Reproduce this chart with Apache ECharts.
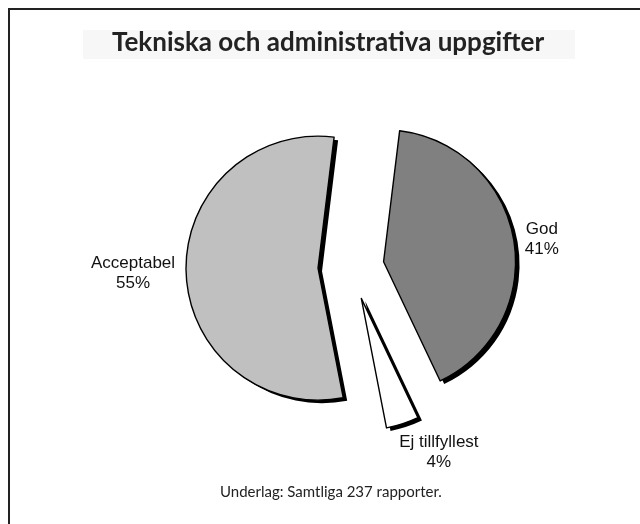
<!DOCTYPE html>
<html>
<head>
<meta charset="utf-8">
<script src="https://cdn.jsdelivr.net/npm/echarts@6/dist/echarts.min.js"></script>
<style>
  html, body { margin: 0; padding: 0; background: #fff; }
  #chart { width: 640px; height: 524px; }
</style>
</head>
<body>
<div id="chart"></div>
<script>
// data, clockwise from the top
var categories = ['God', 'Ej tillfyllest', 'Acceptabel'];
var shares = [41, 4, 55];
var fills = ['#808080', '#ffffff', '#c0c0c0'];
// label line lengths tuned so labels land where the original put them
var labelLen = [6, 30, 6];
var labelLen2 = [0, 22, 0];

var chart = echarts.init(document.getElementById('chart'));

var pieCenter = [351, 267];
var pieRadius = 132;
var explode = 33;

// a black copy of the pie a few pixels down-right acts as the hard drop shadow
var shadowData = categories.map(function (name, i) {
  return {
    name: name,
    value: shares[i],
    selected: true,
    itemStyle: { color: '#000', borderWidth: 0 },
    select: { itemStyle: { color: '#000', borderWidth: 0 } }
  };
});

var sliceData = categories.map(function (name, i) {
  var st = { color: fills[i], borderColor: '#000', borderWidth: 1.4 };
  return {
    name: name,
    value: shares[i],
    selected: true,
    itemStyle: st,
    select: { itemStyle: st },
    labelLine: { show: false, length: labelLen[i], length2: labelLen2[i] }
  };
});

chart.setOption({
  animation: false,
  graphic: [
    {
      type: 'rect',
      z: 0,
      shape: { x: 9, y: 9, width: 700, height: 600 },
      style: { fill: 'none', stroke: '#222', lineWidth: 2 }
    },
    {
      type: 'rect',
      z: 0,
      shape: { x: 83, y: 30, width: 492, height: 29 },
      style: { fill: '#f7f7f7' }
    }
  ],
  title: [
    {
      text: 'Tekniska och administrativa uppgifter',
      left: 112,
      top: 28,
      padding: 0,
      textStyle: {
        fontFamily: 'Lato',
        fontWeight: 'bold',
        fontSize: 26,
        lineHeight: 30,
        color: '#222'
      }
    },
    {
      text: 'Underlag: Samtliga 237 rapporter.',
      left: 220,
      top: 485,
      padding: 0,
      textStyle: {
        fontFamily: 'Lato',
        fontWeight: 'normal',
        fontSize: 15,
        color: '#222'
      }
    }
  ],
  series: [
    {
      type: 'pie',
      silent: true,
      center: [pieCenter[0] + 4, pieCenter[1] + 3],
      radius: pieRadius,
      startAngle: 83,
      selectedMode: 'multiple',
      selectedOffset: explode,
      emphasis: { disabled: true },
      label: { show: false },
      labelLine: { show: false },
      data: shadowData
    },
    {
      type: 'pie',
      center: pieCenter,
      radius: pieRadius,
      startAngle: 83,
      clockwise: true,
      selectedMode: 'multiple',
      selectedOffset: explode,
      avoidLabelOverlap: false,
      percentPrecision: 0,
      emphasis: { disabled: true },
      label: {
        position: 'outside',
        formatter: '{n|{b}}\n{n|{d}%}',
        rich: {
          n: {
            fontFamily: 'Liberation Sans',
            fontSize: 17,
            lineHeight: 20,
            align: 'center',
            color: '#111'
          }
        }
      },
      labelLine: { show: false },
      labelLayout: function (p) {
        if (p.seriesIndex === 1 && p.dataIndex === 1) return { align: 'center' };
      },
      data: sliceData
    }
  ]
});
</script>
</body>
</html>
